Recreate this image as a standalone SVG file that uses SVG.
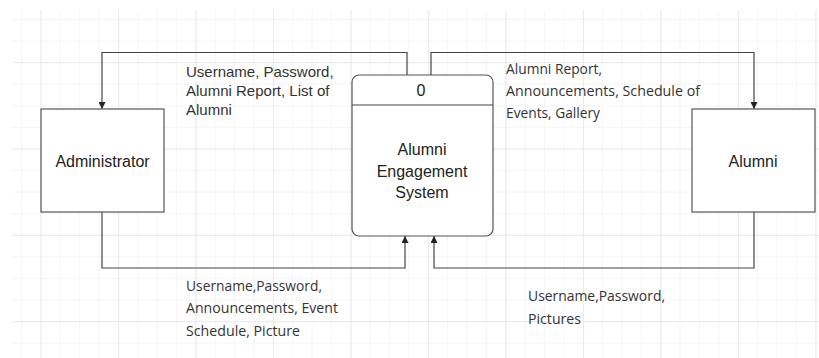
<svg xmlns="http://www.w3.org/2000/svg" width="819" height="358" viewBox="0 0 819 358">
<defs>
<pattern id="minor" x="21" y="19" width="19.37" height="21.58" patternUnits="userSpaceOnUse">
<path d="M0 0V21.58M0 0H19.37" fill="none" stroke="#ececec" stroke-width="1"/>
</pattern>
<pattern id="major" x="40.7" y="62.2" width="77.48" height="86.32" patternUnits="userSpaceOnUse">
<path d="M0 0V86.32M0 0H77.48" fill="none" stroke="#dedede" stroke-width="1"/>
</pattern>
<marker id="arr" viewBox="0 0 10 10" refX="10" refY="5" markerWidth="7" markerHeight="7" markerUnits="userSpaceOnUse" orient="auto">
<path d="M0 0L10 5L0 10z" fill="#222"/>
</marker>
</defs>
<style>
.box{fill:#fff;stroke:#555;stroke-width:1.2}
.line{fill:none;stroke:#444;stroke-width:1.2}
.t{font-family:"Liberation Sans",Arial,sans-serif;font-size:16px;fill:#222}
.lbl{font-family:"Liberation Sans",Arial,sans-serif;font-size:15px;fill:#333}
.lbl2{font-family:"Open Sans","Noto Sans",sans-serif;font-size:14px;fill:#333}
</style>
<rect width="819" height="358" fill="#fff"/>
<rect x="12" y="10" width="807" height="348" fill="url(#minor)"/>
<rect x="12" y="10" width="807" height="348" fill="url(#major)"/>

<g id="connectors">
<path class="line" d="M407 75V52.5H102V109" marker-end="url(#arr)"/>
<path class="line" d="M431 75V52.5H754V109" marker-end="url(#arr)"/>
<path class="line" d="M102 212V268H405V236" marker-end="url(#arr)"/>
<path class="line" d="M754 212V268H434V236" marker-end="url(#arr)"/>
<text class="lbl" x="186" y="77">Username, Password,</text>
<text class="lbl" x="186" y="96">Alumni Report, List of</text>
<text class="lbl" x="186" y="115">Alumni</text>
<text class="lbl2" x="506" y="74" textLength="96" lengthAdjust="spacingAndGlyphs">Alumni Report,</text>
<text class="lbl2" x="506" y="96" textLength="194" lengthAdjust="spacingAndGlyphs">Announcements, Schedule of</text>
<text class="lbl2" x="506" y="118" textLength="94" lengthAdjust="spacingAndGlyphs">Events, Gallery</text>
<text class="lbl2" x="186" y="291" textLength="136" lengthAdjust="spacingAndGlyphs">Username,Password,</text>
<text class="lbl2" x="186" y="313" textLength="152" lengthAdjust="spacingAndGlyphs">Announcements, Event</text>
<text class="lbl2" x="186" y="336" textLength="114" lengthAdjust="spacingAndGlyphs">Schedule, Picture</text>
<text class="lbl2" x="528" y="301" textLength="137" lengthAdjust="spacingAndGlyphs">Username,Password,</text>
<text class="lbl2" x="528" y="324" textLength="53" lengthAdjust="spacingAndGlyphs">Pictures</text>
</g>

<g id="administrator">
<rect class="box" x="41" y="109" width="123" height="103"/>
<text class="t" x="102.5" y="167" text-anchor="middle">Administrator</text>
</g>

<g id="process">
<rect class="box" x="352" y="75" width="141" height="161" rx="7"/>
<line class="line" x1="352" y1="105" x2="493" y2="105"/>
<text class="t" x="421" y="96" text-anchor="middle">0</text>
<text class="t" x="422" y="155" text-anchor="middle">Alumni</text>
<text class="t" x="422" y="177" text-anchor="middle">Engagement</text>
<text class="t" x="422" y="198" text-anchor="middle">System</text>
</g>

<g id="alumni">
<rect class="box" x="692" y="109" width="123" height="103"/>
<text class="t" x="753" y="167" text-anchor="middle">Alumni</text>
</g>
</svg>
